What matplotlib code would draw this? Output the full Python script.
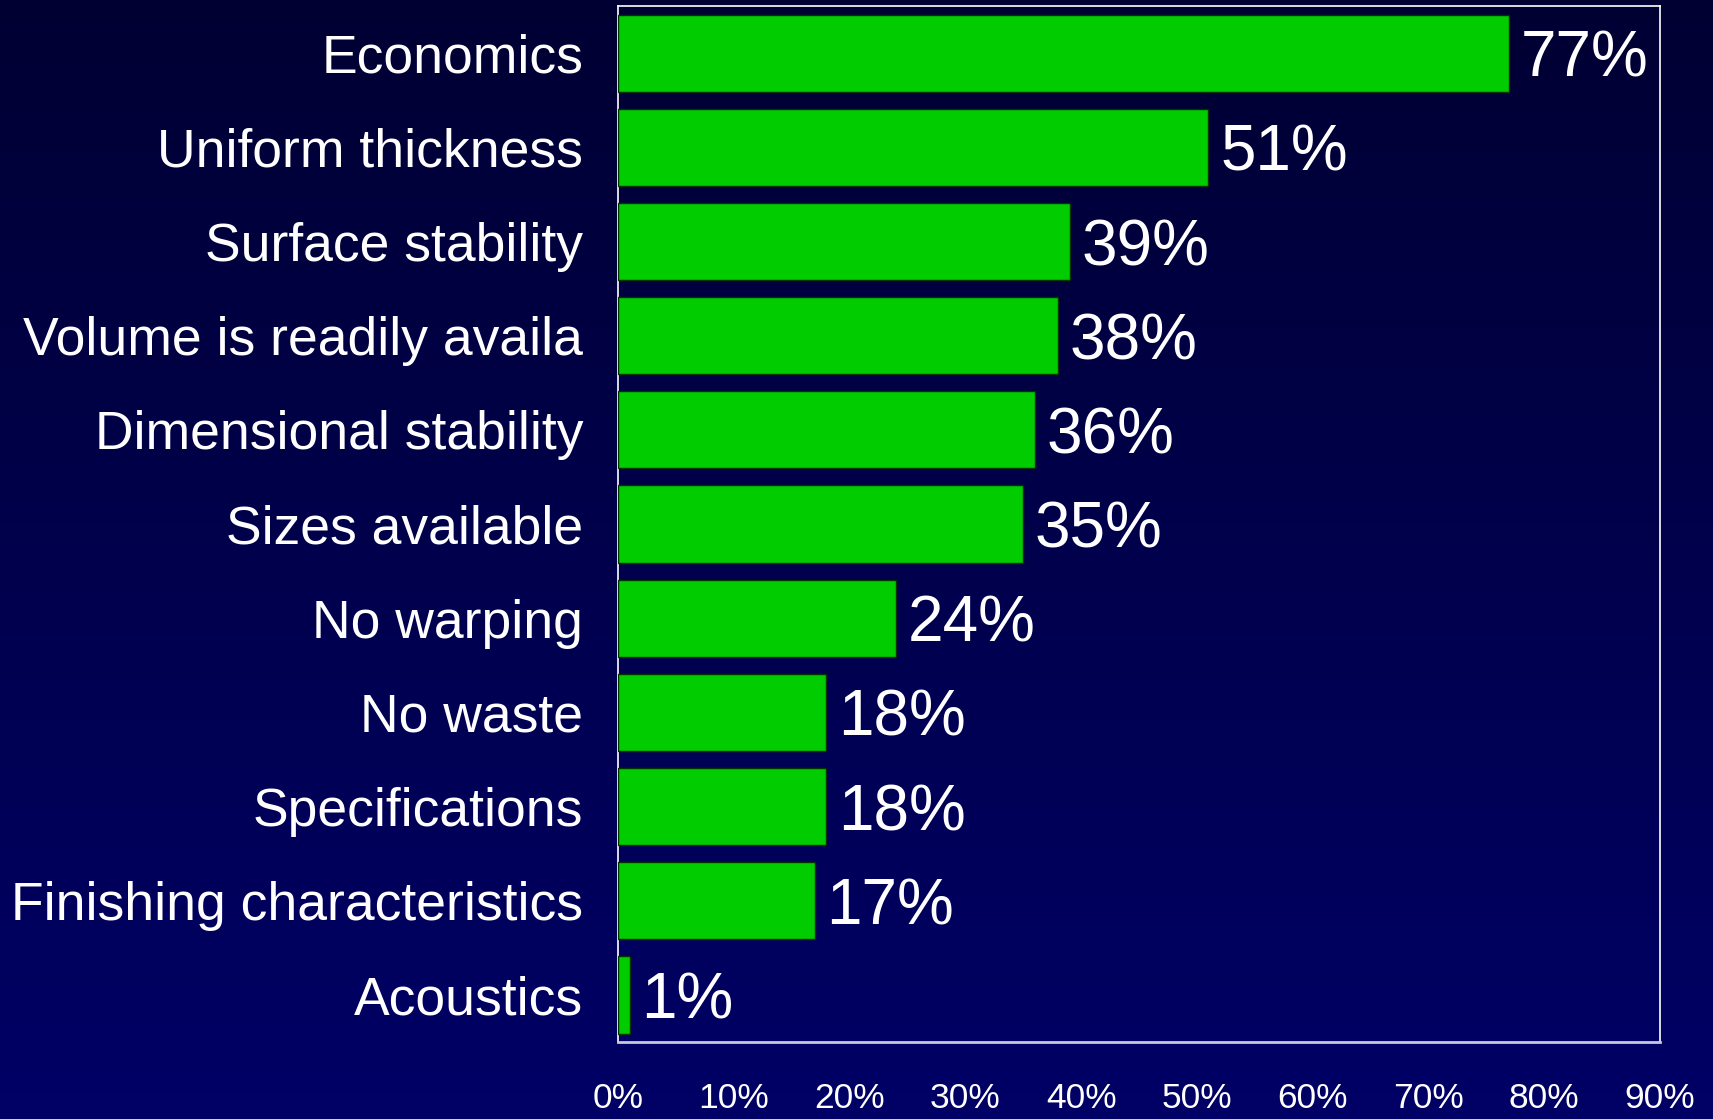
import numpy as np
import matplotlib.pyplot as plt
from matplotlib.colors import LinearSegmentedColormap

plt.rcParams['font.family'] = ['Liberation Sans', 'DejaVu Sans']

categories = ['Economics', 'Uniform thickness', 'Surface stability',
              'Volume is readily availa', 'Dimensional stability',
              'Sizes available', 'No warping', 'No waste', 'Specifications',
              'Finishing characteristics', 'Acoustics']
values = [77, 51, 39, 38, 36, 35, 24, 18, 18, 17, 1]
ticks = [0, 10, 20, 30, 40, 50, 60, 70, 80, 90]
tick_labels = [f'{t}%' for t in ticks]

fig = plt.figure(figsize=(17.13, 11.19), dpi=100)

# vertical gradient background
bg = fig.add_axes([0, 0, 1, 1], zorder=-10)
cmap = LinearSegmentedColormap.from_list('bg', ['#000033', '#000066'])
bg.imshow(np.linspace(0, 1, 256).reshape(-1, 1), aspect='auto', cmap=cmap,
          extent=[0, 1, 0, 1])
bg.axis('off')

ax = fig.add_axes([0.3608, 0.0688, 0.6082, 0.9258])
ax.patch.set_alpha(0)

y = np.arange(len(categories))
ax.barh(y, values, height=0.82, color='#00CC00', edgecolor='#003300',
        linewidth=1, zorder=3)
for yi, v in zip(y, values):
    ax.text(v + 1.0, yi + 0.07, f'{v}%', color='white', fontsize=46,
            va='center', ha='left', zorder=4)

ax.set_xlim(0, 90)
ax.set_ylim(len(categories) - 0.5, -0.5)
ax.set_yticks(y)
ax.set_yticklabels(categories, fontsize=38.5, color='white')
ax.set_xticks(ticks)
ax.set_xticklabels(tick_labels, fontsize=25.5, color='white')
ax.tick_params(axis='y', length=0, pad=25)
ax.tick_params(axis='x', length=0, pad=29)
for s in ax.spines.values():
    s.set_color('white')
    s.set_linewidth(1.2)
ax.spines['bottom'].set_color('#c8c8d8')
ax.spines['bottom'].set_linewidth(2)

fig.savefig('out.png', dpi=100)
